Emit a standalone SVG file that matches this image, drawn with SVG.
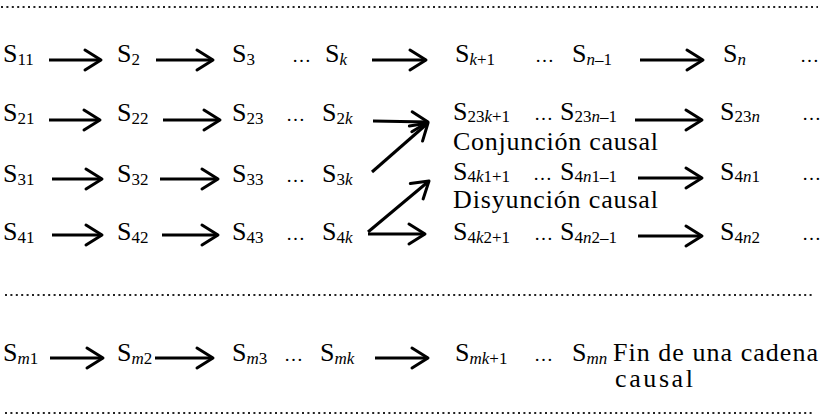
<svg xmlns="http://www.w3.org/2000/svg" width="823" height="419" viewBox="0 0 823 419">
  <style>
    text { font-family: "Liberation Serif", "Times New Roman", serif; font-size: 26px; fill: #000; }
    .sub { font-size: 17px; }
    .it { font-style: italic; }
    .ell { font-size: 19px; }
    .dots { stroke: #222; stroke-width: 2; stroke-dasharray: 2 3.4; fill: none; }
    .arr { stroke: #000; stroke-width: 3; fill: none; marker-end: url(#head); }
  </style>
  <defs>
    <marker id="head" markerUnits="userSpaceOnUse" viewBox="-20 -14 24 28" markerWidth="24" markerHeight="28" refX="0" refY="0" orient="auto">
      <path d="M-16,-10 L0,0 L-16,10" fill="none" stroke="#000" stroke-width="3" stroke-linecap="round" stroke-linejoin="round"/>
    </marker>
  </defs>

  <!-- separators -->
  <g id="separators">
    <line class="dots" x1="1" y1="7" x2="818" y2="7"/>
    <line class="dots" x1="5" y1="295" x2="812" y2="295"/>
    <line class="dots" x1="5" y1="413" x2="812" y2="413"/>
  </g>

  <!-- row 1 -->
  <g id="s11"><text x="3" y="62">S<tspan class="sub" dy="3">11</tspan></text></g>
  <g id="s2"><text x="117" y="62">S<tspan class="sub" dy="3">2</tspan></text></g>
  <g id="s3"><text x="232" y="62">S<tspan class="sub" dy="3">3</tspan></text></g>
  <g id="dots-1a"><text class="ell" x="292" y="62">…</text></g>
  <g id="sk"><text x="325" y="62">S<tspan class="sub it" dy="3">k</tspan></text></g>
  <g id="sk1"><text x="455" y="62">S<tspan class="sub" dy="3"><tspan class="it">k</tspan>+1</tspan></text></g>
  <g id="dots-1b"><text class="ell" x="535" y="62">…</text></g>
  <g id="sn1"><text x="572" y="62">S<tspan class="sub" dy="3"><tspan class="it">n</tspan>–1</tspan></text></g>
  <g id="sn"><text x="723" y="62">S<tspan class="sub it" dy="3">n</tspan></text></g>
  <g id="dots-1c"><text class="ell" x="800" y="62">…</text></g>

  <!-- row 2 -->
  <g id="s21"><text x="3" y="121">S<tspan class="sub" dy="3">21</tspan></text></g>
  <g id="s22"><text x="117" y="121">S<tspan class="sub" dy="3">22</tspan></text></g>
  <g id="s23"><text x="232" y="121">S<tspan class="sub" dy="3">23</tspan></text></g>
  <g id="dots-2a"><text class="ell" x="286" y="121">…</text></g>
  <g id="s2k"><text x="322" y="121">S<tspan class="sub" dy="3">2<tspan class="it">k</tspan></tspan></text></g>
  <g id="s23k1"><text x="453" y="120">S<tspan class="sub" dy="2">23<tspan class="it">k</tspan>+1</tspan></text></g>
  <g id="dots-2b"><text class="ell" x="534" y="120">…</text></g>
  <g id="s23n1"><text x="560" y="120">S<tspan class="sub" dy="2">23<tspan class="it">n</tspan>–1</tspan></text></g>
  <g id="s23n"><text x="720" y="120">S<tspan class="sub" dy="2">23<tspan class="it">n</tspan></tspan></text></g>
  <g id="dots-2c"><text class="ell" x="802" y="120">…</text></g>
  <g id="conjuncion"><text x="453" y="150" textLength="205">Conjunción causal</text></g>

  <!-- row 3 -->
  <g id="s31"><text x="3" y="182">S<tspan class="sub" dy="3">31</tspan></text></g>
  <g id="s32"><text x="117" y="182">S<tspan class="sub" dy="3">32</tspan></text></g>
  <g id="s33"><text x="232" y="182">S<tspan class="sub" dy="3">33</tspan></text></g>
  <g id="dots-3a"><text class="ell" x="286" y="182">…</text></g>
  <g id="s3k"><text x="322" y="182">S<tspan class="sub" dy="3">3<tspan class="it">k</tspan></tspan></text></g>
  <g id="s4k11"><text x="453" y="180">S<tspan class="sub" dy="2">4<tspan class="it">k</tspan>1+1</tspan></text></g>
  <g id="dots-3b"><text class="ell" x="533" y="180">…</text></g>
  <g id="s4n11"><text x="560" y="180">S<tspan class="sub" dy="2">4<tspan class="it">n</tspan>1–1</tspan></text></g>
  <g id="s4n1"><text x="720" y="180">S<tspan class="sub" dy="2">4<tspan class="it">n</tspan>1</tspan></text></g>
  <g id="dots-3c"><text class="ell" x="802" y="180">…</text></g>
  <g id="disyuncion"><text x="453" y="208" textLength="205">Disyunción causal</text></g>

  <!-- row 4 -->
  <g id="s41"><text x="3" y="240">S<tspan class="sub" dy="3">41</tspan></text></g>
  <g id="s42"><text x="117" y="240">S<tspan class="sub" dy="3">42</tspan></text></g>
  <g id="s43"><text x="232" y="240">S<tspan class="sub" dy="3">43</tspan></text></g>
  <g id="dots-4a"><text class="ell" x="286" y="240">…</text></g>
  <g id="s4k"><text x="322" y="240">S<tspan class="sub" dy="3">4<tspan class="it">k</tspan></tspan></text></g>
  <g id="s4k21"><text x="453" y="240">S<tspan class="sub" dy="3">4<tspan class="it">k</tspan>2+1</tspan></text></g>
  <g id="dots-4b"><text class="ell" x="534" y="240">…</text></g>
  <g id="s4n21"><text x="560" y="240">S<tspan class="sub" dy="3">4<tspan class="it">n</tspan>2–1</tspan></text></g>
  <g id="s4n2"><text x="720" y="240">S<tspan class="sub" dy="3">4<tspan class="it">n</tspan>2</tspan></text></g>
  <g id="dots-4c"><text class="ell" x="802" y="240">…</text></g>

  <!-- row m -->
  <g id="sm1"><text x="3" y="361">S<tspan class="sub" dy="3"><tspan class="it">m</tspan>1</tspan></text></g>
  <g id="sm2"><text x="117" y="361">S<tspan class="sub" dy="3"><tspan class="it">m</tspan>2</tspan></text></g>
  <g id="sm3"><text x="232" y="361">S<tspan class="sub" dy="3"><tspan class="it">m</tspan>3</tspan></text></g>
  <g id="dots-ma"><text class="ell" x="284" y="361">…</text></g>
  <g id="smk"><text x="320" y="361">S<tspan class="sub it" dy="3">mk</tspan></text></g>
  <g id="smk1"><text x="455" y="361">S<tspan class="sub" dy="3"><tspan class="it">mk</tspan>+1</tspan></text></g>
  <g id="dots-mb"><text class="ell" x="534" y="361">…</text></g>
  <g id="smn"><text x="572" y="361">S<tspan class="sub it" dy="3">mn</tspan></text></g>
  <g id="fin"><text x="613" y="361" textLength="205">Fin de una cadena</text><text x="615" y="387" textLength="78">causal</text></g>

  <!-- connectors -->
  <g id="connectors">
    <line class="arr" x1="49" y1="60" x2="101" y2="60"/>
    <line class="arr" x1="156" y1="60" x2="213" y2="60"/>
    <line class="arr" x1="372" y1="60" x2="426" y2="60"/>
    <line class="arr" x1="640" y1="60" x2="703" y2="60"/>

    <line class="arr" x1="49" y1="120" x2="100" y2="120"/>
    <line class="arr" x1="163" y1="120" x2="220" y2="120"/>
    <line class="arr" x1="373" y1="121" x2="428" y2="122"/>
    <line class="arr" x1="635" y1="120" x2="702" y2="120"/>

    <line class="arr" x1="52" y1="179" x2="102" y2="179"/>
    <line class="arr" x1="160" y1="179" x2="218" y2="179"/>
    <line class="arr" x1="372" y1="172" x2="428" y2="123"/>
    <line class="arr" x1="638" y1="178" x2="702" y2="178"/>

    <line class="arr" x1="52" y1="235" x2="102" y2="235"/>
    <line class="arr" x1="162" y1="235" x2="218" y2="235"/>
    <line class="arr" x1="368" y1="232" x2="429" y2="181"/>
    <line class="arr" x1="368" y1="234" x2="425" y2="234"/>
    <line class="arr" x1="638" y1="236" x2="702" y2="236"/>

    <line class="arr" x1="50" y1="358" x2="103" y2="358"/>
    <line class="arr" x1="155" y1="358" x2="213" y2="358"/>
    <line class="arr" x1="375" y1="358" x2="428" y2="358"/>
  </g>
</svg>
